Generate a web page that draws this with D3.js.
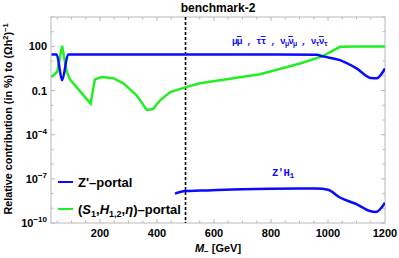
<!DOCTYPE html>
<html>
<head>
<meta charset="utf-8">
<script src="https://cdn.jsdelivr.net/npm/d3@7"></script>
<style>
  body { margin: 0; background: #fff; }
  svg { font-family: "Liberation Sans", Arial, sans-serif; font-weight: bold; }
</style>
</head>
<body>
<div id="chart"></div>
<script>
// ----- data
var zpMass   = [30, 48, 67, 88, 500, 960, 982, 1042, 1100, 1150, 1170, 1200];
var zpUpper  = [28.5, 28.5, 0.5, 28.5, 28.5, 27, 21, 11.7, 3.2, 0.72, 0.68, 3.2];

var zhMass   = [463, 500, 551, 700, 900, 960, 1000, 1042, 1100, 1150, 1168, 1200];
var zhLower  = [1.0e-8, 1.5e-8, 1.6e-8, 2.0e-8, 2.2e-8, 2.2e-8, 1.8e-8, 5.4e-9, 1.9e-9, 6.2e-10, 5.6e-10, 2.4e-9];

var shMass   = [30, 50, 67, 83, 95, 167, 182, 206, 247, 282, 329, 364, 386, 410, 446, 498, 551, 761, 902, 982, 1042, 1100, 1200];
var shValues = [0.83, 1.9, 110, 1.9, 0.56, 0.013, 0.58, 0.83, 0.69, 0.31, 0.046, 0.0048, 0.0056, 0.021, 0.079, 0.166, 0.31, 1.3, 6.9, 22, 94, 100, 100];

var xTicks = [200, 400, 600, 800, 1000, 1200];
var yTicks = [1e2, 1e-1, 1e-4, 1e-7, 1e-10];
var benchmark = 500;

var W = 399, H = 258;
var svg = d3.select("#chart").append("svg").attr("width", W).attr("height", H);

var x = d3.scaleLinear().domain([28, 1200]).range([51, 385]);
var y = d3.scaleLog().domain([1e-10, 1e4]).range([223, 17]);

var blue = "#0a0aff", green = "#22ee22", frame = "#b8b8b8";

// minor ticks
var xMinor = d3.range(50, 1200, 50);
var yMinor = d3.range(-10, 5).map(function(k) { return Math.pow(10, k); });

var g = svg.append("g");
xMinor.forEach(function(v) {
  var big = xTicks.indexOf(v) >= 0;
  var len = big ? 4 : 2.5;
  g.append("line").attr("x1", x(v)).attr("x2", x(v)).attr("y1", 223).attr("y2", 223 - len).attr("stroke", frame);
  g.append("line").attr("x1", x(v)).attr("x2", x(v)).attr("y1", 17).attr("y2", 17 + len).attr("stroke", frame);
});
yMinor.forEach(function(v) {
  var big = yTicks.indexOf(v) >= 0;
  var len = big ? 4 : 2.5;
  g.append("line").attr("x1", 51).attr("x2", 51 + len).attr("y1", y(v)).attr("y2", y(v)).attr("stroke", frame);
  g.append("line").attr("x1", 385).attr("x2", 385 - len).attr("y1", y(v)).attr("y2", y(v)).attr("stroke", frame);
});

// frame
svg.append("rect").attr("x", 51).attr("y", 17).attr("width", 334).attr("height", 206)
  .attr("fill", "none").attr("stroke", frame).attr("stroke-width", 1);

// tick labels
svg.selectAll(".xt").data(xTicks).enter().append("text")
  .attr("x", function(d) { return x(d); }).attr("y", 237)
  .attr("text-anchor", "middle").attr("font-size", 11).text(function(d) { return d; });

svg.selectAll(".yt").data(yTicks).enter().append("text")
  .attr("x", 47).attr("y", function(d) { return y(d) + 4; })
  .attr("text-anchor", "end").attr("font-size", 11)
  .each(function(d) {
    var t = d3.select(this);
    if (d === 1e2) t.text("100");
    else if (d === 1e-1) t.text("0.1");
    else {
      t.append("tspan").text("10");
      t.append("tspan").attr("dy", -5).attr("font-size", 8).text("\u2212" + Math.round(-Math.log10(d)));
    }
  });

// axis titles
var xl = svg.append("text").attr("x", 218).attr("y", 252).attr("text-anchor", "middle").attr("font-size", 11);
xl.append("tspan").attr("font-style", "italic").text("M");
xl.append("tspan").attr("dy", 2).attr("font-size", 8).text("\u2212");
xl.append("tspan").attr("dy", -2).text(" [GeV]");

var yl = svg.append("text").attr("transform", "translate(12,119) rotate(-90)")
  .attr("text-anchor", "middle").attr("font-size", 10.8);
yl.append("tspan").text("Relative contribution (in %) to (\u03A9h");
yl.append("tspan").attr("dy", -4).attr("font-size", 7.5).text("2");
yl.append("tspan").attr("dy", 4).text(")");
yl.append("tspan").attr("dy", -4).attr("font-size", 7.5).text("\u22121");

svg.append("text").attr("x", 218).attr("y", 12).attr("text-anchor", "middle")
  .attr("font-size", 12).text("benchmark-2");

// benchmark line
svg.append("line").attr("x1", x(benchmark)).attr("x2", x(benchmark))
  .attr("y1", 17).attr("y2", 223).attr("stroke", "#000")
  .attr("stroke-width", 1.6).attr("stroke-dasharray", "3,2");

// curves
svg.append("clipPath").attr("id", "clip").append("rect")
  .attr("x", 51).attr("y", 17).attr("width", 334).attr("height", 206);

function pts(xs, ys) { return xs.map(function(v, i) { return [v, ys[i]]; }); }
var line = d3.line().x(function(d) { return x(d[0]); }).y(function(d) { return y(d[1]); });
var smooth = d3.line().x(function(d) { return x(d[0]); }).y(function(d) { return y(d[1]); }).curve(d3.curveMonotoneX);

var cg = svg.append("g").attr("clip-path", "url(#clip)");
cg.append("path").attr("d", line(pts(shMass, shValues)))
  .attr("fill", "none").attr("stroke", green).attr("stroke-width", 2.5);
cg.append("path").attr("d", smooth(pts(zpMass, zpUpper)))
  .attr("fill", "none").attr("stroke", blue).attr("stroke-width", 2.5);
cg.append("path").attr("d", smooth(pts(zhMass, zhLower)))
  .attr("fill", "none").attr("stroke", blue).attr("stroke-width", 2.5);

// annotations
var mono = '"Liberation Mono", "DejaVu Sans Mono", monospace';
function bar(t, s) {
  return t.append("tspan").text(s).style("text-decoration", "overline");
}
var a1 = svg.append("text").attr("x", 232).attr("y", 44).attr("fill", blue)
  .attr("font-family", mono).attr("font-size", 9.5).attr("letter-spacing", -0.9);
a1.append("tspan").text("\u03BC");
bar(a1, "\u03BC");
a1.append("tspan").text(" , \u03C4");
bar(a1, "\u03C4");
a1.append("tspan").text(" , \u03BD");
a1.append("tspan").attr("dy", 2).attr("font-size", 7).text("\u03BC");
bar(a1, "\u03BD").attr("dy", -2);
a1.append("tspan").attr("dy", 2).attr("font-size", 7).text("\u03BC");
a1.append("tspan").attr("dy", -2).text(" , \u03BD");
a1.append("tspan").attr("dy", 2).attr("font-size", 7).text("\u03C4");
bar(a1, "\u03BD").attr("dy", -2);
a1.append("tspan").attr("dy", 2).attr("font-size", 7).text("\u03C4");

var a2 = svg.append("text").attr("x", 272).attr("y", 176).attr("fill", blue)
  .attr("font-family", mono).attr("font-size", 10.5).attr("letter-spacing", -0.5);
a2.append("tspan").text("Z'H");
a2.append("tspan").attr("dy", 2).attr("font-size", 8).text("1");

// legend
var legend = [
  { color: blue, y: 182 },
  { color: green, y: 209 }
];
legend.forEach(function(d, i) {
  svg.append("line").attr("x1", 58).attr("x2", 73).attr("y1", d.y).attr("y2", d.y)
    .attr("stroke", d.color).attr("stroke-width", 2);
  var t = svg.append("text").attr("x", 78).attr("y", d.y + 4.5).attr("font-size", 13);
  if (i === 0) t.text("Z'\u2013portal");
  else {
    t.append("tspan").text("(");
    t.append("tspan").attr("font-style", "italic").text("S");
    t.append("tspan").attr("dy", 3).attr("font-size", 9).text("1");
    t.append("tspan").attr("dy", -3).text(",");
    t.append("tspan").attr("font-style", "italic").text("H");
    t.append("tspan").attr("dy", 3).attr("font-size", 9).text("1,2");
    t.append("tspan").attr("dy", -3).text(",");
    t.append("tspan").attr("font-style", "italic").text("\u03B7");
    t.append("tspan").text(")\u2013portal");
  }
});
</script>
</body>
</html>
